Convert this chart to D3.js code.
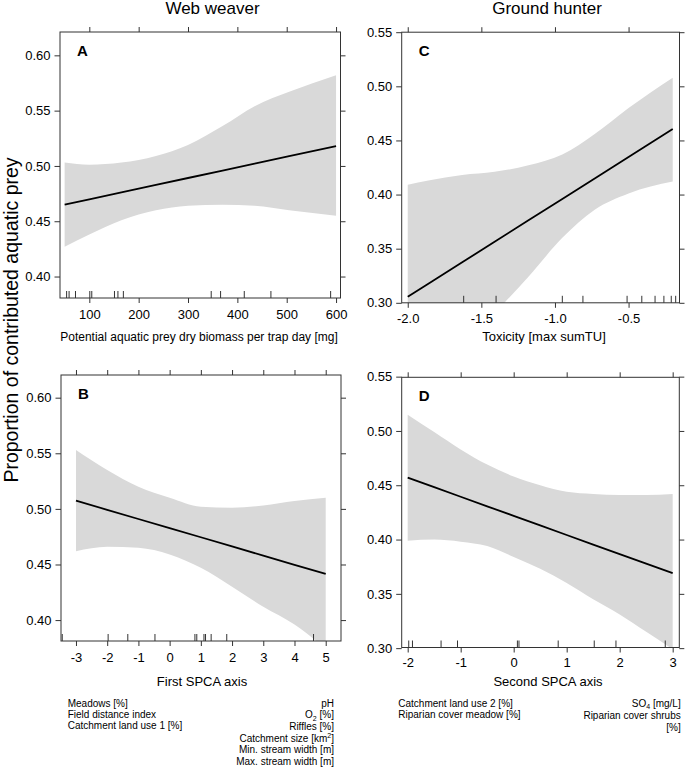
<!DOCTYPE html>
<html>
<head>
<meta charset="utf-8">
<script src="https://cdn.jsdelivr.net/npm/d3@7"></script>
<style>
  html, body { margin: 0; padding: 0; background: #fff; }
  svg { display: block; }
</style>
</head>
<body>
<div id="chart"></div>
<script>
// ---------------- DATA ----------------
// Panel A: Web weaver ~ potential aquatic prey biomass
const aX      = [50, 100, 165, 235, 300, 370, 435, 505, 600];
const aFit    = [0.4650, 0.4698, 0.4761, 0.4828, 0.4891, 0.4958, 0.5021, 0.5088, 0.5180];
const aUpper  = [0.503, 0.501, 0.503, 0.509, 0.519, 0.536, 0.554, 0.567, 0.582];
const aLower  = [0.427, 0.438, 0.451, 0.460, 0.464, 0.465, 0.464, 0.460, 0.455];
const aRug    = [54, 59, 72, 101, 105, 151, 158, 169, 347, 366, 414, 468, 589];
const aXTicks = [100, 200, 300, 400, 500, 600];

// Panel B: Web weaver ~ first SPCA axis
const bX      = [-3, -2, -1, 0, 1, 2, 3, 4, 5];
const bFit    = [0.5074, 0.4992, 0.4909, 0.4827, 0.4745, 0.4662, 0.4580, 0.4497, 0.4415];
const bUpper  = [0.553, 0.535, 0.520, 0.510, 0.502, 0.501, 0.503, 0.507, 0.510];
const bLower  = [0.462, 0.466, 0.465, 0.459, 0.447, 0.430, 0.412, 0.396, 0.374];
const bRug    = [-3.44, -1.97, -1.34, -0.47, 0.81, 0.87, 1.10, 1.15, 1.33, 1.83, 4.61];
const bXTicks = [-3, -2, -1, 0, 1, 2, 3, 4, 5];

// Panel C: Ground hunter ~ toxicity
const cX      = [-2.0, -1.86, -1.63, -1.41, -1.18, -0.95, -0.73, -0.50, -0.20];
const cFit    = [0.3056, 0.3176, 0.3374, 0.3564, 0.3762, 0.3960, 0.4149, 0.4347, 0.4605];
const cUpper  = [0.409, 0.413, 0.418, 0.421, 0.427, 0.437, 0.456, 0.480, 0.508];
const cLower  = [0.200, 0.220, 0.255, 0.290, 0.324, 0.360, 0.386, 0.401, 0.412];
const cRug    = [-1.62, -1.40, -0.95, -0.81, -0.51, -0.41, -0.32, -0.26, -0.21, -0.18];
const cXTicks = [-2.0, -1.5, -1.0, -0.5];

// Panel D: Ground hunter ~ second SPCA axis
const dX      = [-2, -1.5, -1, -0.5, 0, 0.5, 1, 1.5, 2, 2.5, 3];
const dFit    = [0.4570, 0.4482, 0.4394, 0.4306, 0.4218, 0.4130, 0.4042, 0.3954, 0.3866, 0.3778, 0.3690];
const dUpper  = [0.515, 0.499, 0.483, 0.469, 0.458, 0.450, 0.444, 0.442, 0.441, 0.441, 0.442];
const dLower  = [0.399, 0.400, 0.398, 0.394, 0.384, 0.373, 0.360, 0.345, 0.331, 0.315, 0.299];
const dRug    = [-1.98, -1.91, -1.37, -1.06, 0.07, 0.10, 0.84, 1.52, 1.93, 2.86];
const dXTicks = [-2, -1, 0, 1, 2, 3];

const weaverYTicks = [0.40, 0.45, 0.50, 0.55, 0.60];
const hunterYTicks = [0.30, 0.35, 0.40, 0.45, 0.50, 0.55];

const columnTitles = ["Web weaver", "Ground hunter"];
const yTitle = "Proportion of contributed aquatic prey";
const xTitles = ["Potential aquatic prey dry biomass per trap day [mg]", "First SPCA axis",
                 "Toxicity [max sumTU]", "Second SPCA axis"];
const panelLetters = ["A", "B", "C", "D"];

// Loadings notes (use _{..} for subscript, ^{..} for superscript)
const bNotesLeft  = ["Meadows [%]", "Field distance index", "Catchment land use 1 [%]"];
const bNotesRight = ["pH", "O_{2} [%]", "Riffles [%]", "Catchment size [km^{2}]",
                     "Min. stream width [m]", "Max. stream width [m]"];
const dNotesLeft  = ["Catchment land use 2 [%]", "Riparian cover meadow [%]"];
const dNotesRight = ["SO_{4} [mg/L]", "Riparian cover shrubs", "[%]"];

// ---------------- LAYOUT ----------------
const W = 685, H = 767;
const FONT = "'Liberation Sans', Arial, Helvetica, sans-serif";
const FRAME = "#333";
const BAND = "#d9d9d9";

const svg = d3.select("#chart").append("svg")
  .attr("width", W).attr("height", H)
  .attr("font-family", FONT);

const panels = [
  { key: "A", x: aX, fit: aFit, up: aUpper, lo: aLower, rug: aRug, xTicks: aXTicks, yTicks: weaverYTicks,
    box: {l: 60, r: 340.5, t: 32, b: 298}, xDom: [40.6, 609], yDom: [0.3806, 0.6211],
    xFmt: d => String(d), xTitle: xTitles[0], xTitleX: 199, xTitleY: 341, xTitleSize: 12, xPad: 7 },
  { key: "B", x: bX, fit: bFit, up: bUpper, lo: bLower, rug: bRug, xTicks: bXTicks, yTicks: weaverYTicks,
    box: {l: 61, r: 341, t: 375, b: 641}, xDom: [-3.48, 5.49], yDom: [0.3812, 0.6204],
    xFmt: d => String(d), xTitle: xTitles[1], xTitleX: 202, xTitleY: 686, xTitleSize: 13, xPad: 7 },
  { key: "C", x: cX, fit: cFit, up: cUpper, lo: cLower, rug: cRug, xTicks: cXTicks, yTicks: hunterYTicks,
    box: {l: 401.7, r: 679.5, t: 32.2, b: 302.8}, xDom: [-2.041, -0.154], yDom: [0.30, 0.55],
    xFmt: d => d.toFixed(1), xTitle: xTitles[2], xTitleX: 544, xTitleY: 341, xTitleSize: 13, xPad: 6 },
  { key: "D", x: dX, fit: dFit, up: dUpper, lo: dLower, rug: dRug, xTicks: dXTicks, yTicks: hunterYTicks,
    box: {l: 401.7, r: 679.3, t: 377.3, b: 647.5}, xDom: [-2.113, 3.125], yDom: [0.3006, 0.5494],
    xFmt: d => String(d), xTitle: xTitles[3], xTitleX: 548, xTitleY: 686, xTitleSize: 13, xPad: 5.5 }
];

function styleAxis(g) {
  g.select(".domain").remove();
  g.selectAll(".tick line").attr("stroke", FRAME).attr("stroke-width", 1);
  g.selectAll(".tick text").attr("fill", "#000").attr("font-size", 13).attr("font-family", FONT);
}

panels.forEach((p, i) => {
  const b = p.box;
  const xs = d3.scaleLinear().domain(p.xDom).range([b.l, b.r]);
  const ys = d3.scaleLinear().domain(p.yDom).range([b.b, b.t]);
  const g = svg.append("g");

  const clipId = "clip" + p.key;
  svg.append("clipPath").attr("id", clipId)
    .append("rect").attr("x", b.l).attr("y", b.t).attr("width", b.r - b.l).attr("height", b.b - b.t);

  const rows = p.x.map((xv, j) => ({ x: xv, fit: p.fit[j], up: p.up[j], lo: p.lo[j] }));

  const area = d3.area().x(d => xs(d.x)).y0(d => ys(d.lo)).y1(d => ys(d.up)).curve(d3.curveMonotoneX);
  g.append("path").datum(rows).attr("d", area)
    .attr("fill", BAND).attr("stroke", "none").attr("clip-path", `url(#${clipId})`);

  const line = d3.line().x(d => xs(d.x)).y(d => ys(d.fit));
  g.append("path").datum(rows).attr("d", line)
    .attr("fill", "none").attr("stroke", "#000").attr("stroke-width", 1.8)
    .attr("clip-path", `url(#${clipId})`);

  // rug
  g.selectAll(".rug").data(p.rug).enter().append("line")
    .attr("x1", d => xs(d)).attr("x2", d => xs(d))
    .attr("y1", b.b).attr("y2", b.b - 7)
    .attr("stroke", FRAME).attr("stroke-width", 1);

  // axes
  g.append("g").attr("transform", `translate(0,${b.b})`)
    .call(d3.axisBottom(xs).tickValues(p.xTicks).tickFormat(p.xFmt).tickSize(5).tickPadding(p.xPad))
    .call(styleAxis);
  g.append("g").attr("transform", `translate(0,${b.t})`)
    .call(d3.axisTop(xs).tickValues(p.xTicks).tickFormat("").tickSize(5))
    .call(styleAxis);
  g.append("g").attr("transform", `translate(${b.l},0)`)
    .call(d3.axisLeft(ys).tickValues(p.yTicks).tickFormat(d3.format(".2f")).tickSize(5.5).tickPadding(4))
    .call(styleAxis);
  g.append("g").attr("transform", `translate(${b.r},0)`)
    .call(d3.axisRight(ys).tickValues(p.yTicks).tickFormat("").tickSize(5))
    .call(styleAxis);

  // frame
  g.append("rect").attr("x", b.l).attr("y", b.t).attr("width", b.r - b.l).attr("height", b.b - b.t)
    .attr("fill", "none").attr("stroke", FRAME).attr("stroke-width", 1);

  // panel letter
  g.append("text").attr("x", b.l + 17).attr("y", b.t + 23.5)
    .attr("font-size", 15).attr("font-weight", "bold").text(panelLetters[i]);

  // x title
  g.append("text").attr("x", p.xTitleX).attr("y", p.xTitleY)
    .attr("text-anchor", "middle").attr("font-size", p.xTitleSize).text(p.xTitle);
});

// column titles
svg.append("text").attr("x", 212.5).attr("y", 13.5).attr("text-anchor", "middle")
  .attr("font-size", 17).text(columnTitles[0]);
svg.append("text").attr("x", 547).attr("y", 13.5).attr("text-anchor", "middle")
  .attr("font-size", 17).text(columnTitles[1]);

// y title
svg.append("text").attr("transform", "translate(17.5,320) rotate(-90)")
  .attr("text-anchor", "middle").attr("font-size", 19.5).text(yTitle);

// notes with sub/superscripts
function richText(sel, str) {
  const re = /([_^])\{([^}]*)\}/g;
  let last = 0, m, shift = 0;
  while ((m = re.exec(str)) !== null) {
    if (m.index > last) {
      sel.append("tspan").attr("dy", -shift).text(str.slice(last, m.index));
      shift = 0;
    }
    const s = m[1] === "_" ? 2.5 : -3.5;
    sel.append("tspan").attr("dy", s - shift).attr("font-size", 7).text(m[2]);
    shift = s;
    last = re.lastIndex;
  }
  if (last < str.length) sel.append("tspan").attr("dy", -shift).text(str.slice(last));
}
function notes(list, x, y0, step, anchor) {
  list.forEach((s, i) => {
    const t = svg.append("text").attr("x", x).attr("y", y0 + i * step)
      .attr("text-anchor", anchor).attr("font-size", 10);
    richText(t, s);
  });
}
notes(bNotesLeft, 67.7, 706.7, 11.3, "start");
notes(bNotesRight, 334, 706.7, 11.6, "end");
notes(dNotesLeft, 398.3, 706.7, 11.6, "start");
notes(dNotesRight, 680.7, 706.7, 12.2, "end");
</script>
</body>
</html>
